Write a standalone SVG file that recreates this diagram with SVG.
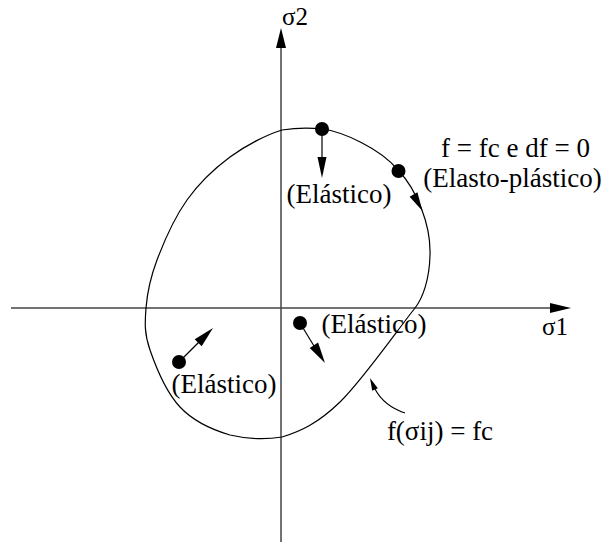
<svg xmlns="http://www.w3.org/2000/svg" width="607" height="542" viewBox="0 0 607 542">
<style>
.ax{stroke:#444;stroke-width:1.5;fill:none}
.cv{stroke:#000;stroke-width:1.2;fill:none}
.hd{fill:#000;stroke:none}
.t{font-family:"Liberation Serif","Times New Roman",serif;font-size:27px;fill:#000}
.s{font-family:"Liberation Serif","Times New Roman",serif;font-size:25px;fill:#000}
</style>
<rect width="607" height="542" fill="#fff"/>
<g id="axes">
<line class="ax" x1="11" y1="308" x2="552" y2="308"/>
<polygon class="hd" points="571,308 550,303 550,313"/>
<line class="ax" x1="281" y1="542" x2="281" y2="46"/>
<polygon class="hd" points="281,28 276,48 286,48"/>
<text class="s" x="542" y="335">σ1</text>
<text class="s" x="282" y="25">σ2</text>
</g>
<g id="yield-surface">
<path class="cv" d="M322,129 C342,131.5 380,148 398,170 C417,190 431,225 430,255 C429.5,280 422.4,298.6 415,308 C396.4,331.4 362.2,380.5 340,402 C317.8,423.5 300.3,431.5 282,437 C264,440 247,439 230,435 C213,430 193.3,421.2 180,407 C166.7,392.8 155.7,366.5 150,350 C144.3,333.5 144.8,323 146,308 C147.2,293 150.2,278 157,260 C163.8,242 174.8,217.2 187,200 C199.2,182.8 214.2,168.7 230,157 C245.8,145.3 266.7,134.7 282,130 C295,128 308,127.5 322,129 Z"/>
<text class="t" x="440" y="440" text-anchor="middle">f(σij) = fc</text>
</g>
<g id="point-top">
<circle cx="322" cy="129" r="7"/>
<text class="t" x="339" y="203" text-anchor="middle">(Elástico)</text>
</g>
<g id="point-plastic">
<circle cx="398.5" cy="171" r="7"/>
<text class="t" x="515.5" y="157" text-anchor="middle">f = fc e df = 0</text>
<text class="t" x="512.5" y="187" text-anchor="middle">(Elasto-plástico)</text>
</g>
<g id="point-right">
<circle cx="300" cy="323" r="7"/>
<text class="t" x="374" y="333" text-anchor="middle">(Elástico)</text>
</g>
<g id="point-left">
<circle cx="179" cy="362" r="7"/>
<text class="t" x="224" y="393" text-anchor="middle">(Elástico)</text>
</g>
<g id="connectors">
<line class="cv" x1="322" y1="129" x2="322" y2="160"/>
<polygon class="hd" points="322,178 317.5,157 326.5,157"/>
<polygon class="hd" points="422.5,211 417.4,192.3 409.6,196.8"/>
<line class="cv" x1="300" y1="323" x2="314" y2="346"/>
<polygon class="hd" points="325,363 318.1,342.5 309.7,347.9"/>
<line class="cv" x1="179" y1="362" x2="199" y2="342"/>
<polygon class="hd" points="213,328 201.7,346.3 194.7,339.3"/>
<path class="cv" d="M405,413 Q384,406 375,389"/>
<polygon class="hd" points="370,378 377.8,388.3 372.2,390.7"/>
</g>
</svg>
